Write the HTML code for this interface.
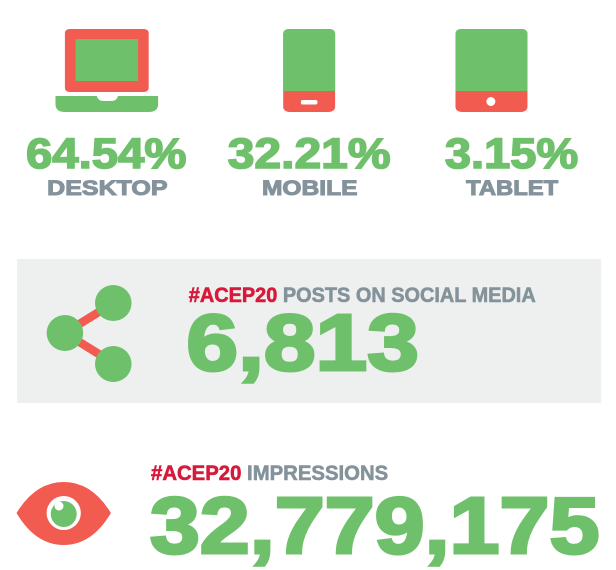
<!DOCTYPE html>
<html><head><style>html,body{margin:0;padding:0;background:#fff}svg{display:block}text{font-family:"Liberation Sans",Arial,sans-serif;font-weight:bold}</style></head>
<body>
<svg width="616" height="570" viewBox="0 0 616 570" xmlns="http://www.w3.org/2000/svg">
<g transform="scale(1.18 1)">
<rect x="55" y="29" width="71" height="63" rx="4" fill="#f25c50"/>
<rect x="64" y="39" width="53" height="42" fill="#6fc06b"/>
<path d="M47 96 H82 Q83 101 88 101 H94 Q99 101 100 96 H134 V104 Q134 112 126 112 H55 Q47 112 47 104 Z" fill="#6fc06b"/>
<rect x="240" y="29" width="44" height="83" rx="5" fill="#f25c50"/>
<path d="M245 29 H279 Q284 29 284 34 V91 H240 V34 Q240 29 245 29 Z" fill="#6fc06b"/>
<rect x="255" y="100" width="14" height="4.5" rx="1.5" fill="#fff"/>
<rect x="386" y="29" width="61" height="83" rx="5" fill="#f25c50"/>
<path d="M391 29 H442 Q447 29 447 34 V91 H386 V34 Q386 29 391 29 Z" fill="#6fc06b"/>
<ellipse cx="416" cy="101.5" rx="3.8" ry="4.5" fill="#fff"/>
<g stroke="#6fc06b" stroke-width="1.6" fill="#6fc06b">
<text x="22" y="168" font-size="43" textLength="136" lengthAdjust="spacingAndGlyphs">64.54%</text>
<text x="193" y="168" font-size="43" textLength="138" lengthAdjust="spacingAndGlyphs">32.21%</text>
<text x="377" y="168" font-size="43" textLength="113" lengthAdjust="spacingAndGlyphs">3.15%</text>
</g>
<g stroke="#84939b" stroke-width="1" fill="#84939b">
<text x="40" y="195" font-size="21" textLength="102" lengthAdjust="spacingAndGlyphs">DESKTOP</text>
<text x="222" y="195" font-size="21" textLength="81" lengthAdjust="spacingAndGlyphs">MOBILE</text>
<text x="395" y="195" font-size="21" textLength="78" lengthAdjust="spacingAndGlyphs">TABLET</text>
</g>
<rect x="14.5" y="259" width="495" height="144" fill="#eef0ef"/>
<line x1="55" y1="333" x2="96" y2="303" stroke="#f25c50" stroke-width="8"/>
<line x1="55" y1="333" x2="96" y2="363" stroke="#f25c50" stroke-width="8"/>
<ellipse cx="96" cy="303" rx="15.5" ry="18" fill="#6fc06b"/>
<ellipse cx="55" cy="333" rx="15.5" ry="18" fill="#6fc06b"/>
<ellipse cx="96" cy="364" rx="15.5" ry="18" fill="#6fc06b"/>
<text x="160" y="302" font-size="21" textLength="294" lengthAdjust="spacingAndGlyphs"><tspan fill="#d7193a" stroke="#d7193a" stroke-width="0.6">#ACEP20</tspan><tspan fill="#84939b" stroke="#84939b" stroke-width="0.6"> POSTS ON SOCIAL MEDIA</tspan></text>
<text x="158" y="370" font-size="80" fill="#6fc06b" stroke="#6fc06b" stroke-width="3" textLength="197" lengthAdjust="spacingAndGlyphs">6,813</text>
<path d="M14 513 Q30 482 54 482 Q78 482 94 513 Q78 545 54 545 Q30 545 14 513 Z" fill="#f25c50"/>
<ellipse cx="54" cy="513" rx="14.5" ry="17" fill="#fff"/>
<ellipse cx="54" cy="514" rx="11" ry="13" fill="#6fc06b"/>
<ellipse cx="50" cy="506" rx="3.8" ry="4.5" fill="#fff"/>
<text x="128" y="480" font-size="21" textLength="201" lengthAdjust="spacingAndGlyphs"><tspan fill="#d7193a" stroke="#d7193a" stroke-width="0.6">#ACEP20</tspan><tspan fill="#84939b" stroke="#84939b" stroke-width="0.6"> IMPRESSIONS</tspan></text>
<text x="127" y="553" font-size="80" fill="#6fc06b" stroke="#6fc06b" stroke-width="3" textLength="381" lengthAdjust="spacingAndGlyphs">32,779,175</text>
</g>
</svg>
</body></html>
